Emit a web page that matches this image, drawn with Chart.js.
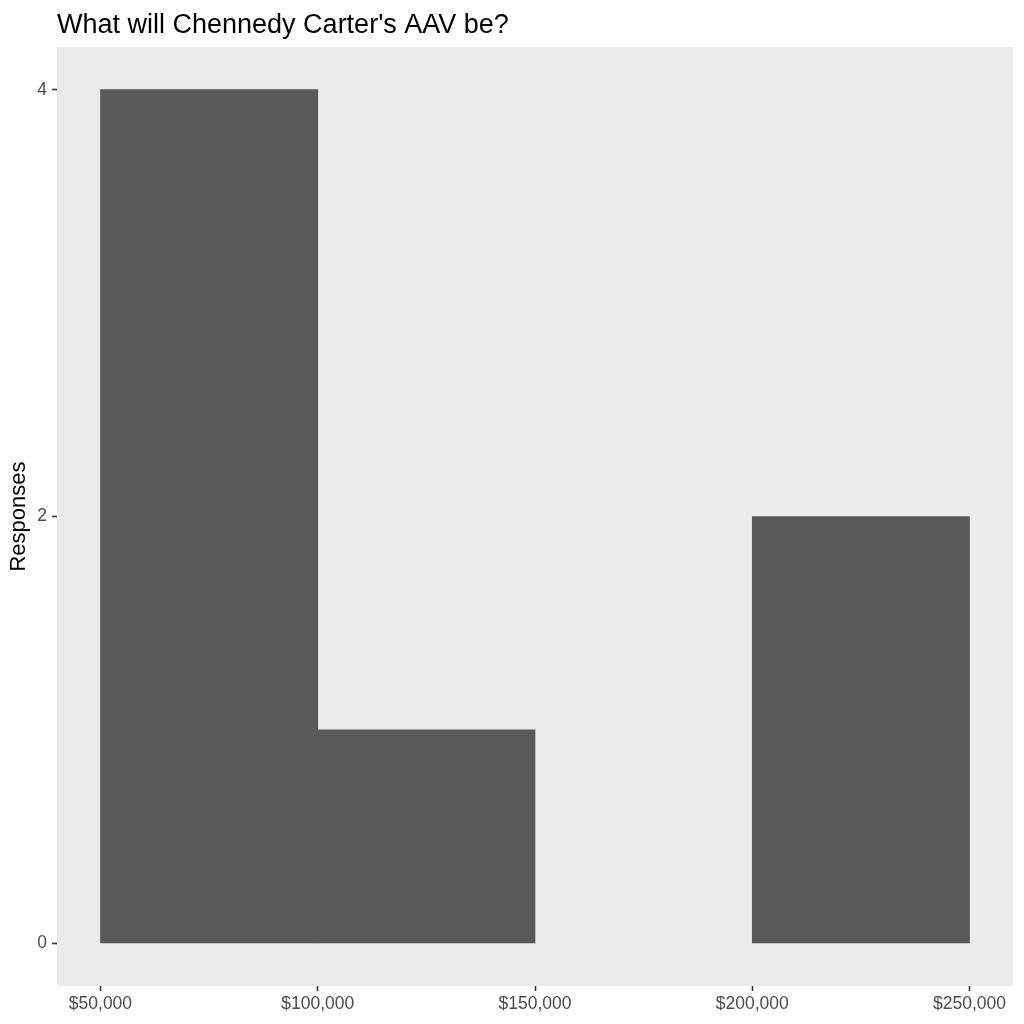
<!DOCTYPE html>
<html>
<head>
<meta charset="utf-8">
<script src="https://cdn.jsdelivr.net/npm/chart.js@4/dist/chart.umd.min.js"></script>
<style>
  html, body { margin: 0; padding: 0; background: #ffffff; }
  #wrap { width: 1024px; height: 1024px; position: relative; }
</style>
</head>
<body>
<div id="wrap"><canvas id="c" width="1024" height="1024"></canvas></div>
<script>
const chartTitle = "What will Chennedy Carter's AAV be?";
const yAxisTitle = "Responses";
const binMids = [75000, 125000, 175000, 225000];
const responses = [4, 1, 0, 2];
const xTickValues = [50000, 100000, 150000, 200000, 250000];
const yTickValues = [0, 2, 4];

const FONT = "'Liberation Sans', Arial, Helvetica, sans-serif";

const panelBg = {
  id: 'panelBg',
  beforeDraw(chart) {
    const { ctx, chartArea: a } = chart;
    ctx.save();
    ctx.fillStyle = '#EBEBEB';
    ctx.fillRect(a.left, a.top, a.right - a.left, a.bottom - a.top);
    ctx.restore();
  },
  afterDraw(chart) {
    const { ctx, chartArea: a } = chart;
    ctx.save();
    ctx.fillStyle = '#000000';
    ctx.font = '27px ' + FONT;
    ctx.textBaseline = 'alphabetic';
    ctx.textAlign = 'left';
    ctx.fillText(chartTitle, a.left, 33);
    ctx.restore();
  }
};

new Chart(document.getElementById('c'), {
  type: 'bar',
  data: {
    datasets: [{
      data: binMids.map((x, i) => ({ x: x, y: responses[i] })),
      backgroundColor: ctx => (ctx.raw && ctx.raw.y === 0) ? 'rgba(0,0,0,0)' : '#595959',
      borderWidth: 0,
      barPercentage: 1,
      categoryPercentage: 1
    }]
  },
  options: {
    responsive: false,
    animation: false,
    layout: { padding: { top: 47, right: 11, left: 0, bottom: 0 } },
    plugins: { legend: { display: false }, tooltip: { enabled: false }, title: { display: false } },
    scales: {
      x: {
        type: 'linear',
        offset: false,
        min: 40000,
        max: 260000,
        afterBuildTicks(scale) { scale.ticks = xTickValues.map(v => ({ value: v })); },
        afterFit(scale) { scale.height = 38; },
        grid: { offset: false, drawOnChartArea: false, drawTicks: true, tickLength: 5, tickColor: '#333333', tickWidth: 1.6 },
        border: { display: false },
        ticks: {
          color: '#4D4D4D',
          font: { family: FONT, size: 17.5 },
          padding: 3,
          maxRotation: 0,
          autoSkip: false,
          callback: v => '$' + Number(v).toLocaleString('en-US')
        }
      },
      y: {
        type: 'linear',
        min: -0.2,
        max: 4.2,
        afterBuildTicks(scale) { scale.ticks = yTickValues.map(v => ({ value: v })); },
        afterFit(scale) { scale.width = 57; },
        grid: { drawOnChartArea: false, drawTicks: true, tickLength: 5, tickColor: '#333333', tickWidth: 1.6 },
        border: { display: false },
        title: {
          display: true,
          text: yAxisTitle,
          color: '#000000',
          font: { family: FONT, size: 22 },
          padding: { top: 6, bottom: 0 }
        },
        ticks: {
          color: '#4D4D4D',
          font: { family: FONT, size: 17.5 },
          padding: 5,
          autoSkip: false
        }
      }
    }
  },
  plugins: [panelBg]
});
</script>
</body>
</html>
